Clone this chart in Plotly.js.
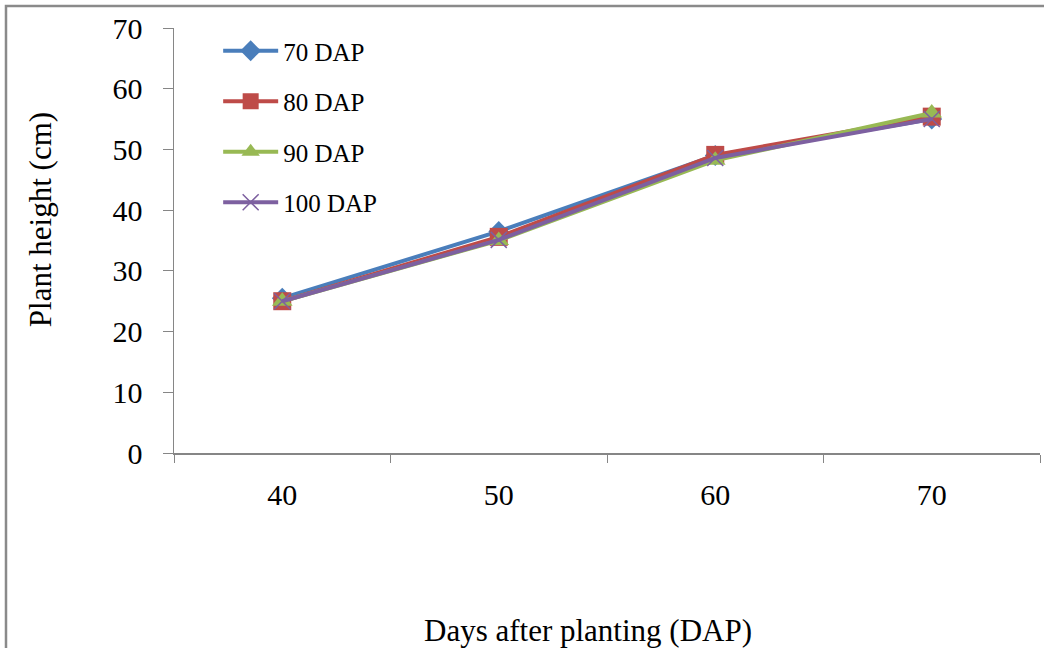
<!DOCTYPE html>
<html>
<head>
<meta charset="utf-8">
<script src="https://cdn.plot.ly/plotly-3.0.1.min.js"></script>
<style>
  html, body { margin: 0; padding: 0; background: #fff; }
  #chart { width: 1044px; height: 648px; }
</style>
</head>
<body>
<div id="chart"></div>
<script>
// Days after planting at which height was measured
const days = ['40', '50', '60', '70'];

// Plant height (cm) for each harvest time
const seriesNames = ['70 DAP', '80 DAP', '90 DAP', '100 DAP'];
const h70 = [25.5, 36.5, 49.0, 55.0];
const h80 = [25.0, 35.6, 49.1, 55.4];
const h90 = [25.0, 35.0, 48.2, 56.0];
const h100 = [25.0, 35.1, 48.6, 55.0];

const yTicks = [0, 10, 20, 30, 40, 50, 60, 70];

const colors = ['#4A7EBB', '#BE4B48', '#98B954', '#7D60A0'];
const symbols = ['diamond', 'square', 'triangle-up', 'x-thin'];
const sizes = [16, 18, 18, 16];
const values = [h70, h80, h90, h100];

const traces = values.map((v, i) => ({
  x: days,
  y: v,
  name: seriesNames[i],
  type: 'scatter',
  mode: 'lines+markers',
  legendgroup: 'g' + i,
  line: { color: colors[i], width: 4 },
  marker: {
    symbol: symbols[i],
    size: sizes[i],
    color: colors[i],
    line: { color: colors[i], width: i === 3 ? 1.5 : 0 }
  }
}));

const serif = '"Liberation Serif", "Times New Roman", serif';

const layout = {
  width: 1044,
  height: 648,
  margin: { l: 174, r: 4, t: 28, b: 195 },
  paper_bgcolor: '#fff',
  plot_bgcolor: '#fff',
  font: { family: serif, color: '#000' },
  showlegend: true,
  legend: {
    x: 0.051, y: 1.0, xanchor: 'left', yanchor: 'top',
    font: { family: serif, size: 25, color: '#000' },
    tracegroupgap: 15,
    itemwidth: 55,
    bgcolor: 'rgba(0,0,0,0)'
  },
  xaxis: {
    type: 'category',
    range: [-0.5, 3.5],
    tickson: 'boundaries',
    ticks: 'outside',
    ticklen: 8,
    tickcolor: '#868686',
    showline: true,
    linecolor: '#868686',
    linewidth: 1.5,
    showgrid: false,
    zeroline: false,
    tickfont: { family: serif, size: 30, color: '#000' },
    ticklabelstandoff: 14,
    fixedrange: true
  },
  yaxis: {
    range: [0, 70],
    tickvals: yTicks,
    ticktext: yTicks.map(String),
    ticks: 'outside',
    ticklen: 10,
    tickcolor: '#868686',
    showline: true,
    linecolor: '#868686',
    linewidth: 1.5,
    showgrid: false,
    zeroline: false,
    tickfont: { family: serif, size: 30, color: '#000' },
    ticklabelstandoff: 14,
    fixedrange: true
  },
  annotations: [
    {
      text: 'Days after planting (DAP)',
      xref: 'paper', yref: 'paper',
      x: 0.478, y: -0.4165,
      xanchor: 'center', yanchor: 'middle',
      showarrow: false,
      font: { family: serif, size: 31, color: '#000' }
    },
    {
      text: 'Plant height (cm)',
      xref: 'paper', yref: 'paper',
      x: -0.1547, y: 0.548,
      xanchor: 'center', yanchor: 'middle',
      textangle: -90,
      showarrow: false,
      font: { family: serif, size: 31, color: '#000' }
    }
  ],
  shapes: [
    {
      // outer frame of the chart area
      type: 'rect',
      xref: 'paper', yref: 'paper',
      x0: -0.1940, x1: 1.2,
      y0: -0.8, y1: 1.0518,
      line: { color: '#8a8a8a', width: 2.5 },
      fillcolor: 'rgba(0,0,0,0)',
      layer: 'below'
    }
  ]
};

Plotly.newPlot('chart', traces, layout, { displayModeBar: false, staticPlot: true });
</script>
</body>
</html>
